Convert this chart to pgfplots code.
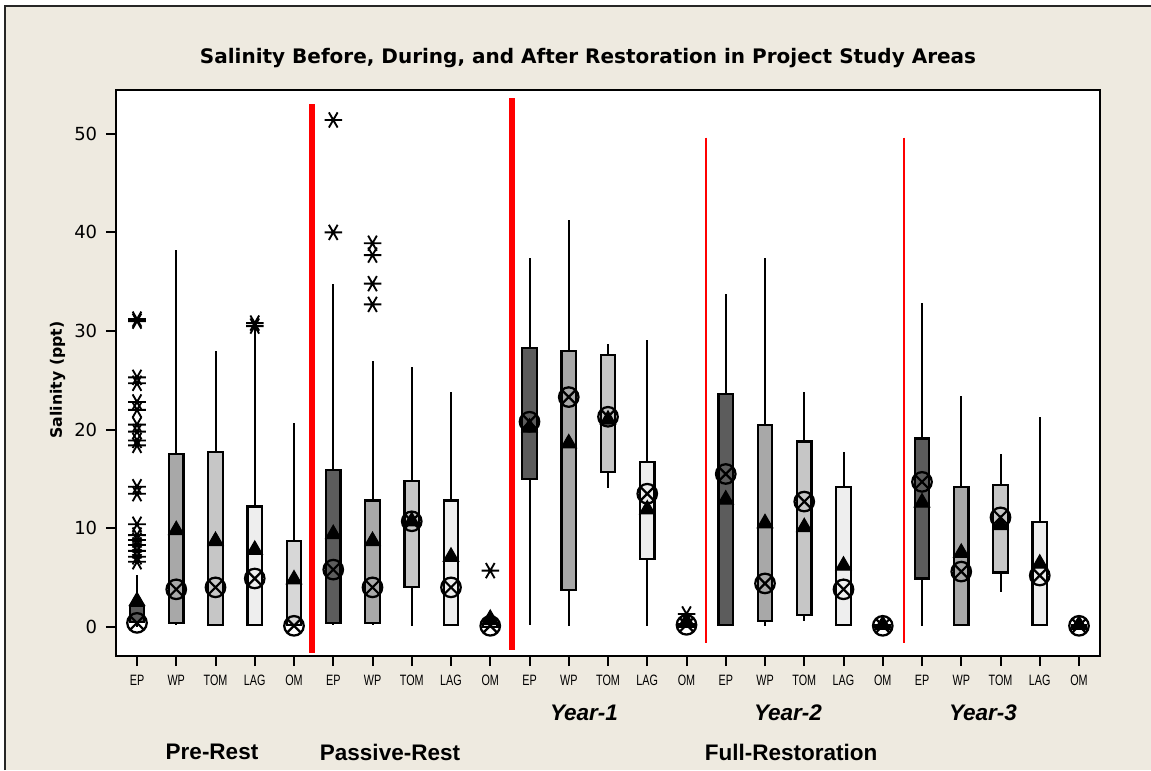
\documentclass[border=0pt]{standalone}
\usepackage{fontspec}
\setmainfont{DejaVu Sans}
\newfontfamily\narrowfont{Liberation Sans}
\usepackage{graphicx}
\usepackage{pgfplots}
\pgfplotsset{compat=1.18}
\usepgfplotslibrary{statistics}
\definecolor{bgbeige}{RGB}{238,234,224}
\definecolor{cEP}{RGB}{92,92,92}
\definecolor{cWP}{RGB}{168,168,168}
\definecolor{cTOM}{RGB}{198,198,198}
\definecolor{cLAG}{RGB}{238,238,238}
\definecolor{cOM}{RGB}{215,215,215}
\pgfplotsset{
  mybox/.style={black, line width=0.8pt, solid,
    mark=asterisk, mark size=3.5pt, mark options={rotate=90, line width=0.75pt},
    boxplot/every box/.style={fill=#1, draw=black, line width=0.9pt}},
}
\newcommand{\xt}[1]{\narrowfont\fontsize{6}{7}\selectfont\scalebox{0.72}[1]{#1}}
\begin{document}
\begin{tikzpicture}
\useasboundingbox (0,0) rectangle (460.4pt,308pt);
\fill[white] (0,0) rectangle (460.4pt,308pt);
\fill[bgbeige] (1.6pt,0) rectangle (460.4pt,305.6pt);
\draw[line width=0.8pt, black!85] (1.8pt,0) -- (1.8pt,305.4pt) -- (460.4pt,305.4pt);
\begin{axis}[
  at={(46.4pt,45.6pt)}, anchor=south west,
  scale only axis, width=393.6pt, height=226.4pt,
  xmin=0.465, xmax=25.535, ymin=-2.96, ymax=54.44,
  axis background/.style={fill=white},
  axis line style={line width=0.9pt},
  tick style={line width=0.8pt, black},
  tick align=outside, major tick length=4pt,
  xtick pos=bottom, ytick pos=left,
  xtick={1,...,25},
  xticklabels={\xt{EP},\xt{WP},\xt{TOM},\xt{LAG},\xt{OM},\xt{EP},\xt{WP},\xt{TOM},\xt{LAG},\xt{OM},\xt{EP},\xt{WP},\xt{TOM},\xt{LAG},\xt{OM},\xt{EP},\xt{WP},\xt{TOM},\xt{LAG},\xt{OM},\xt{EP},\xt{WP},\xt{TOM},\xt{LAG},\xt{OM}},
  ytick={0,10,20,30,40,50},
  yticklabel style={font=\fontsize{7.2}{8}\selectfont, /pgf/number format/assume math mode=true},
  boxplot/draw direction=y,
  boxplot/box extend=0.37,
  boxplot/whisker extend=0,
  boxplot/draw/median/.code={},
  clip=false,
]
% Pre-Rest
\addplot[mybox=cEP, boxplot prepared={draw position=1, lower whisker=0, lower quartile=0.5, median=0.5, upper quartile=2.1, upper whisker=5.3}] coordinates {(0,31.0)(0,31.2)(0,25.3)(0,24.7)(0,22.8)(0,22.0)(0,20.5)(0,19.8)(0,18.9)(0,18.4)(0,14.2)(0,13.5)(0,10.4)(0,9.3)(0,8.8)(0,8.3)(0,7.7)(0,7.1)(0,6.6)};
\addplot[mybox=cWP, boxplot prepared={draw position=2, lower whisker=0.2, lower quartile=0.4, median=3.8, upper quartile=17.5, upper whisker=38.2}] coordinates {};
\addplot[mybox=cTOM, boxplot prepared={draw position=3, lower whisker=0.1, lower quartile=0.2, median=4.0, upper quartile=17.7, upper whisker=28.0}] coordinates {};
\addplot[mybox=cLAG, boxplot prepared={draw position=4, lower whisker=0.1, lower quartile=0.2, median=4.9, upper quartile=12.2, upper whisker=30.4}] coordinates {(0,30.5)(0,30.8)};
\addplot[mybox=cOM, boxplot prepared={draw position=5, lower whisker=0.1, lower quartile=0.2, median=0.2, upper quartile=8.7, upper whisker=20.7}] coordinates {};
% Passive-Rest
\addplot[mybox=cEP, boxplot prepared={draw position=6, lower whisker=0.2, lower quartile=0.4, median=5.8, upper quartile=15.9, upper whisker=34.8}] coordinates {(0,40.0)(0,51.4)};
\addplot[mybox=cWP, boxplot prepared={draw position=7, lower whisker=0.2, lower quartile=0.4, median=4.0, upper quartile=12.8, upper whisker=27.0}] coordinates {(0,32.7)(0,34.8)(0,37.7)(0,38.9)};
\addplot[mybox=cTOM, boxplot prepared={draw position=8, lower whisker=0.1, lower quartile=4.0, median=10.7, upper quartile=14.8, upper whisker=26.3}] coordinates {};
\addplot[mybox=cLAG, boxplot prepared={draw position=9, lower whisker=0.1, lower quartile=0.2, median=4.0, upper quartile=12.8, upper whisker=23.8}] coordinates {};
\addplot[mybox=cOM, boxplot prepared={draw position=10, lower whisker=0, lower quartile=0, median=0.1, upper quartile=0.3, upper whisker=0.9}] coordinates {(0,5.7)};
% Year-1
\addplot[mybox=cEP, boxplot prepared={draw position=11, lower whisker=0.2, lower quartile=15.0, median=20.8, upper quartile=28.3, upper whisker=37.4}] coordinates {};
\addplot[mybox=cWP, boxplot prepared={draw position=12, lower whisker=0.1, lower quartile=3.7, median=23.3, upper quartile=28.0, upper whisker=41.3}] coordinates {};
\addplot[mybox=cTOM, boxplot prepared={draw position=13, lower whisker=14.1, lower quartile=15.7, median=21.3, upper quartile=27.6, upper whisker=28.7}] coordinates {};
\addplot[mybox=cLAG, boxplot prepared={draw position=14, lower whisker=0.1, lower quartile=6.9, median=13.5, upper quartile=16.7, upper whisker=29.1}] coordinates {};
\addplot[mybox=cOM, boxplot prepared={draw position=15, lower whisker=0, lower quartile=0, median=0.2, upper quartile=0.3, upper whisker=0.6}] coordinates {(0,1.3)};
% Year-2
\addplot[mybox=cEP, boxplot prepared={draw position=16, lower whisker=0.1, lower quartile=0.2, median=15.5, upper quartile=23.6, upper whisker=33.8}] coordinates {};
\addplot[mybox=cWP, boxplot prepared={draw position=17, lower whisker=0.1, lower quartile=0.6, median=4.4, upper quartile=20.5, upper whisker=37.4}] coordinates {};
\addplot[mybox=cTOM, boxplot prepared={draw position=18, lower whisker=0.6, lower quartile=1.2, median=12.7, upper quartile=18.8, upper whisker=23.8}] coordinates {};
\addplot[mybox=cLAG, boxplot prepared={draw position=19, lower whisker=0.1, lower quartile=0.2, median=3.8, upper quartile=14.2, upper whisker=17.7}] coordinates {};
\addplot[mybox=cOM, boxplot prepared={draw position=20, lower whisker=0, lower quartile=0, median=0.1, upper quartile=0.2, upper whisker=0.3}] coordinates {};
% Year-3
\addplot[mybox=cEP, boxplot prepared={draw position=21, lower whisker=0.1, lower quartile=4.9, median=14.7, upper quartile=19.1, upper whisker=32.8}] coordinates {};
\addplot[mybox=cWP, boxplot prepared={draw position=22, lower whisker=0.1, lower quartile=0.2, median=5.6, upper quartile=14.2, upper whisker=23.4}] coordinates {};
\addplot[mybox=cTOM, boxplot prepared={draw position=23, lower whisker=3.5, lower quartile=5.5, median=11.1, upper quartile=14.4, upper whisker=17.5}] coordinates {};
\addplot[mybox=cLAG, boxplot prepared={draw position=24, lower whisker=0.1, lower quartile=0.2, median=5.2, upper quartile=10.6, upper whisker=21.3}] coordinates {};
\addplot[mybox=cOM, boxplot prepared={draw position=25, lower whisker=0, lower quartile=0, median=0.1, upper quartile=0.2, upper whisker=0.3}] coordinates {};
% means
\addplot[only marks, mark=triangle*, mark size=3.6pt, black] coordinates {
(1,2.6)(2,9.8)(3,8.7)(4,7.8)(5,4.8)(6,9.4)(7,8.7)(8,10.7)(9,7.1)(10,0.8)
(11,20.2)(12,18.6)(13,21.0)(14,11.9)(15,0.5)(16,12.9)(17,10.5)(18,10.1)(19,6.2)(20,0.2)
(21,12.6)(22,7.5)(23,10.3)(24,6.4)(25,0.2)};
% medians
\addplot[only marks, mark=otimes, mark size=3.9pt, black, mark options={line width=0.9pt}] coordinates {
(1,0.4)(2,3.8)(3,4.0)(4,4.9)(5,0.1)(6,5.8)(7,4.0)(8,10.7)(9,4.0)(10,0.1)
(11,20.8)(12,23.3)(13,21.3)(14,13.5)(15,0.2)(16,15.5)(17,4.4)(18,12.7)(19,3.8)(20,0.1)
(21,14.7)(22,5.6)(23,11.1)(24,5.2)(25,0.1)};
% separators
\draw[red, line width=2.4pt] (axis cs:5.458,53.0) -- (axis cs:5.458,-2.66);
\draw[red, line width=2.4pt] (axis cs:10.55,53.6) -- (axis cs:10.55,-2.36);
\draw[red, line width=0.8pt] (axis cs:15.50,49.6) -- (axis cs:15.50,-1.6);
\draw[red, line width=0.8pt] (axis cs:20.54,49.6) -- (axis cs:20.54,-1.6);
\end{axis}
\node[font=\bfseries\fontsize{8}{9}\selectfont] at (235.2pt,284.8pt) {Salinity Before, During, and After Restoration in Project Study Areas};
\node[rotate=90, font=\bfseries\fontsize{6.3}{7.5}\selectfont] at (23pt,156pt) {Salinity (ppt)};
\node[font=\narrowfont\bfseries\itshape\fontsize{9}{10}\selectfont] at (233.6pt,22.8pt) {Year-1};
\node[font=\narrowfont\bfseries\itshape\fontsize{9}{10}\selectfont] at (315.2pt,22.8pt) {Year-2};
\node[font=\narrowfont\bfseries\itshape\fontsize{9}{10}\selectfont] at (393.2pt,22.8pt) {Year-3};
\node[font=\narrowfont\bfseries\fontsize{9}{10}\selectfont] at (84.8pt,7.2pt) {Pre-Rest};
\node[font=\narrowfont\bfseries\fontsize{9}{10}\selectfont] at (156pt,7.2pt) {Passive-Rest};
\node[font=\narrowfont\bfseries\fontsize{9}{10}\selectfont] at (316.4pt,7.2pt) {Full-Restoration};
\end{tikzpicture}
\end{document}
